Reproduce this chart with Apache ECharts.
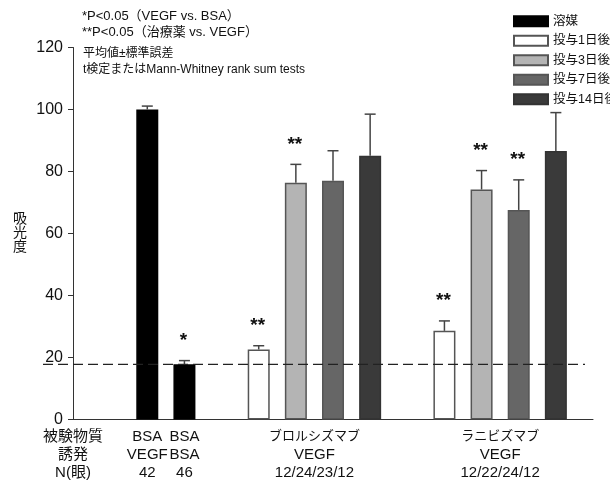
<!DOCTYPE html>
<html><head><meta charset="utf-8">
<script src="https://cdn.jsdelivr.net/npm/echarts@6/dist/echarts.min.js"></script>
<style>html,body{margin:0;padding:0;background:#fff}#c{width:610px;height:480px}</style>
</head><body><div id="c"></div>
<script>
// ---- data ----
const slots = ['axis','gap1','BSA-VEGF','BSA-BSA','gap2','Bro-1','Bro-3','Bro-7','Bro-14','gap3','Rani-1','Rani-3','Rani-7','Rani-14','end'];
const slotLabels = {'axis':'被験物質\n誘発\nN(眼)','BSA-VEGF':'BSA\nVEGF\n42','BSA-BSA':'BSA\nBSA\n46'};
const groupSlots = ['','','','','','','ブロルシズマブ','','','','','ラニビズマブ','',''];
const groupLabels = {'ブロルシズマブ':'ブロルシズマブ\nVEGF\n12/24/23/12','ラニビズマブ':'ラニビズマブ\nVEGF\n12/22/24/12'};
const seriesNames = ['溶媒','投与1日後','投与3日後','投与7日後','投与14日後'];
const vehicleCats = ['BSA-VEGF','BSA-BSA'];
const vehicleValues = [100, 17.8];
const vehicleErr = [1.1, 1.2];
const vehicleStars = ['', '*'];
const broCats = ['Bro-1','Bro-3','Bro-7','Bro-14'];
const broValues = [22.6, 76.4, 77.0, 85.1];
const broErr = [1.2, 5.9, 9.7, 13.4];
const broStars = ['**','**','',''];
const raniCats = ['Rani-1','Rani-3','Rani-7','Rani-14'];
const raniValues = [28.6, 74.2, 67.6, 86.6];
const raniErr = [3.2, 6.1, 9.7, 12.4];
const raniStars = ['**','**','**',''];
const yTicks = [0, 20, 40, 60, 80, 100, 120];
const noteLines = ['*P<0.05（VEGF vs. BSA）','**P<0.05（治療薬 vs. VEGF）'];
const methodLines = ['平均値±標準誤差','t検定またはMann-Whitney rank sum tests'];

// ---- styles ----
const FONT = "'Liberation Sans','Noto Sans CJK JP',sans-serif";
const fills = ['#000000','#ffffff','#b4b4b4','#666666','#3a3a3a'];
const borders = ['#000000','#555555','#555555','#555555','#333333'];

const chart = echarts.init(document.getElementById('c'), null, {renderer:'canvas'});

const barSeries = seriesNames.map((name, i) => {
  let data;
  if (i === 0) data = vehicleCats.map((c, k) => [c, vehicleValues[k]]);
  else data = [[broCats[i-1], broValues[i-1]], [raniCats[i-1], raniValues[i-1]]];
  return {
    name, type: 'bar', xAxisIndex: 0, yAxisIndex: 0,
    barWidth: 22, barGap: '-100%', data,
    itemStyle: {color: fills[i], borderColor: borders[i], borderWidth: 1.5},
    emphasis: {disabled: true}, z: 2
  };
});

const errData = [];
vehicleCats.forEach((c,k)=>errData.push([c, vehicleValues[k], vehicleErr[k], vehicleStars[k]]));
broCats.forEach((c,k)=>errData.push([c, broValues[k], broErr[k], broStars[k]]));
raniCats.forEach((c,k)=>errData.push([c, raniValues[k], raniErr[k], raniStars[k]]));

const errSeries = {
  type: 'custom', xAxisIndex: 0, yAxisIndex: 0, z: 3,
  data: errData.map(d => [slots.indexOf(d[0]), d[1], d[2]]),
  encode: {x: 0, y: 1},
  renderItem: function (params, api) {
    const x = api.value(0), v = api.value(1), e = api.value(2);
    const star = errData[params.dataIndex][3];
    const p0 = api.coord([x, v]);
    const p1 = api.coord([x, v + e]);
    const cap = 5.5;
    const children = [
      {type:'line', shape:{x1:p0[0], y1:p0[1], x2:p1[0], y2:p1[1]}, style:{stroke:'#444', lineWidth:1.5}},
      {type:'line', shape:{x1:p1[0]-cap, y1:p1[1], x2:p1[0]+cap, y2:p1[1]}, style:{stroke:'#444', lineWidth:1.5}}
    ];
    if (star) {
      children.push({type:'text', x:p1[0]-1, y:p1[1]-20,
        style:{text: star, fontSize:19, fontWeight:'bold', fontFamily:"'Liberation Sans',sans-serif", fill:'#111', align:'center', verticalAlign:'middle'}});
    }
    return {type:'group', children};
  }
};

const dashY = () => chart.convertToPixel({yAxisIndex: 0}, vehicleValues[1]);

const textGraphics = [
  {type:'text', left: 82, top: 8, style:{text: noteLines.join('\n'), fontSize: 13, lineHeight: 16, fill:'#111', fontFamily: FONT}},
  {type:'text', left: 83, top: 46, style:{text: methodLines.join('\n'), fontSize: 12, lineHeight: 16, fill:'#111', fontFamily: FONT}}
];

const option = {
  animation: false,
  textStyle: {fontFamily: FONT},
  grid: {left: 73, right: 17, top: 47.5, bottom: 60.5, containLabel: false, outerBoundsMode: 'none'},
  legend: {
    orient: 'vertical', left: 513, top: 15, padding: 0,
    itemWidth: 34, itemHeight: 10, itemGap: 7,
    icon: 'rect',
    data: seriesNames,
    textStyle: {fontSize: 12.5, color: '#111', fontFamily: FONT},
    selectedMode: false
  },
  xAxis: [{
    type: 'category', data: slots, boundaryGap: false,
    axisLine: {show: true, lineStyle: {color: '#333', width: 1}},
    axisTick: {show: false},
    axisLabel: {interval: 0, margin: 8, fontSize: 15, lineHeight: 18, color: '#111',
      formatter: v => slotLabels[v] || ''},
    splitLine: {show: false}
  }, {
    type: 'category', data: groupSlots.map((g, i) => g || ('_' + i)), boundaryGap: true, position: 'bottom',
    axisLine: {show: false}, axisTick: {show: false},
    axisLabel: {interval: 0, margin: 8, fontSize: 15, lineHeight: 18, color: '#111',
      formatter: v => groupLabels[v] ? '{k|' + groupLabels[v].split('\n')[0] + '}\n' + groupLabels[v].split('\n').slice(1).join('\n') : '',
      rich: {k: {fontSize: 13, lineHeight: 18, fontFamily: FONT, color:'#111'}}},
    splitLine: {show: false}
  }],
  yAxis: {
    type: 'value', min: yTicks[0], max: yTicks[yTicks.length-1], interval: 20,
    axisLine: {show: true, lineStyle: {color: '#333', width: 1}},
    axisTick: {show: true, length: 5, lineStyle: {color: '#333'}},
    axisLabel: {fontSize: 16, color: '#111', margin: 10},
    splitLine: {show: false},
    name: '吸\n光\n度', nameLocation: 'middle', nameRotate: 0, nameGap: 46,
    nameTextStyle: {fontSize: 14, lineHeight: 14, color: '#111'}
  },
  graphic: textGraphics,
  series: [...barSeries, errSeries]
};
chart.setOption(option);

// reference dashed line at the BSA/BSA vehicle level, placed via the y scale
const yRef = dashY();
chart.setOption({graphic: textGraphics.concat([
  {type:'line', z: 10, shape:{x1: 43, y1: yRef, x2: 585, y2: yRef},
   style:{stroke:'#222', lineWidth: 1.2, lineDash:[10, 5]}}
])});
</script></body></html>
